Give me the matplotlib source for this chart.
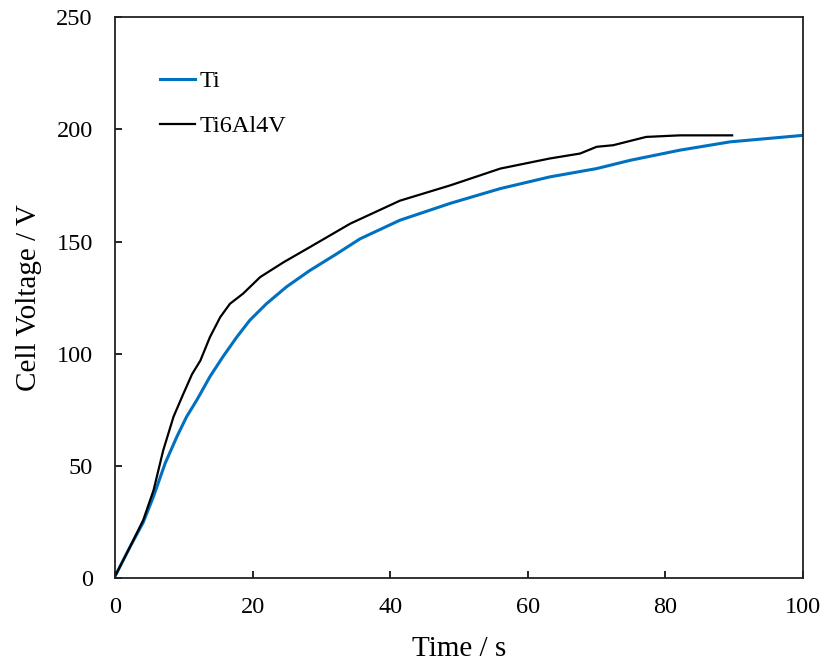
import matplotlib
matplotlib.use("Agg")
import matplotlib.pyplot as plt

# Ti (blue) - time [s], cell voltage [V]
ti_t = [0, 2, 4.1, 5.6, 7.3, 9.0, 10.4, 11.9, 13.8, 15.7, 17.7, 19.6, 22.0,
        24.9, 28.3, 32.2, 35.6, 41.4, 48.7, 56.0, 63.2, 70.0, 74.9, 82.1,
        89.4, 100]
ti_v = [1, 13, 25, 36.6, 51.4, 63.2, 72, 79.5, 89.9, 98.8, 107.5, 115,
        122.3, 129.8, 137.1, 144.5, 151.2, 159.5, 167, 173.6, 178.8, 182.5,
        186.2, 190.7, 194.4, 197.3]

# Ti6Al4V (black)
al_t = [0, 2, 4.1, 5.6, 7.0, 8.5, 9.9, 11.2, 12.4, 13.8, 15.3, 16.7, 18.6,
        21.1, 24.5, 28.3, 34.2, 41.4, 48.7, 56.0, 63.2, 67.6, 70.0, 72.4,
        77.2, 82.1, 89.7]
al_v = [1, 13, 26, 39.3, 57, 72, 82, 91, 97, 107.5, 116.4, 122.3, 126.8,
        134.2, 140.8, 147.5, 158, 168.2, 175, 182.5, 187, 189.2, 192.2,
        192.9, 196.6, 197.3, 197.3]

plt.rcParams['font.family'] = ['Liberation Serif', 'DejaVu Serif']

fig = plt.figure(figsize=(8.24, 6.66), dpi=100)
ax = fig.add_axes([0.1396, 0.1314, 0.8349, 0.8431])

ax.plot(ti_t, ti_v, color='#0070C0', linewidth=2.2, label='Ti')
ax.plot(al_t, al_v, color='black', linewidth=1.6, label='Ti6Al4V')

ax.set_xlim(0, 100)
ax.set_ylim(0, 250)
ax.set_xticks([0, 20, 40, 60, 80, 100])
ax.set_yticks([0, 50, 100, 150, 200, 250])
ax.tick_params(direction='in', length=5, width=1.2, labelsize=17.5,
               colors='black')
ax.tick_params(axis='x', pad=13)
ax.tick_params(axis='y', pad=16)
for s in ax.spines.values():
    s.set_linewidth(1.3)
    s.set_color('#222222')

ax.set_xlabel('Time / s', fontsize=21, labelpad=13)
ax.set_ylabel('Cell Voltage / V', fontsize=21, labelpad=10)

ax.legend(loc='upper left', bbox_to_anchor=(0.065, 0.905), frameon=False,
          fontsize=17.5, handlelength=1.45, handletextpad=0.2,
          labelspacing=0.95, borderpad=0, borderaxespad=0)

fig.savefig('out.png', dpi=100)
